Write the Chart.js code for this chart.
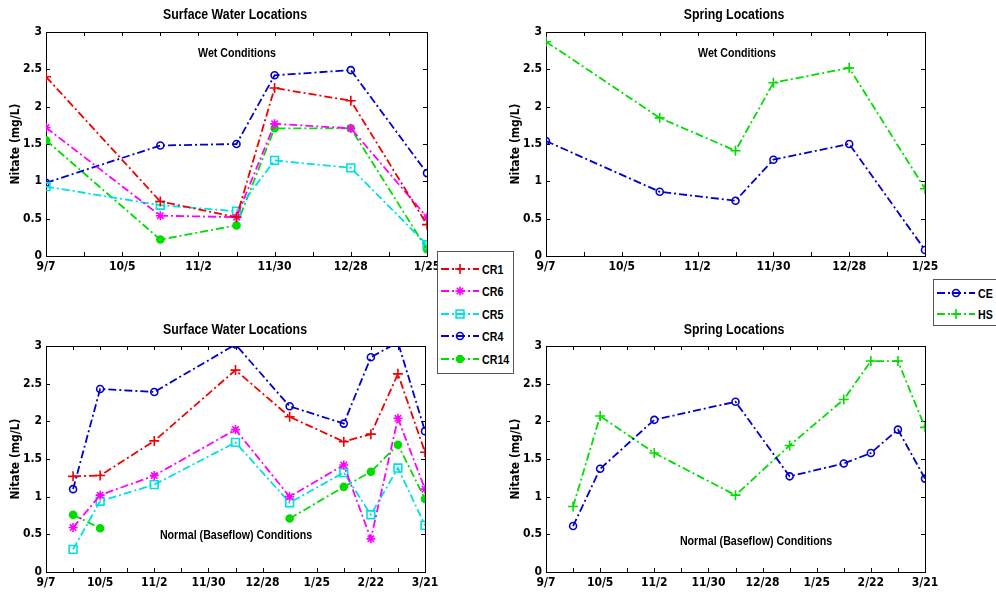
<!DOCTYPE html>
<html>
<head>
<meta charset="utf-8">
<script src="https://cdn.jsdelivr.net/npm/chart.js@4.4.1/dist/chart.umd.min.js"></script>
<style>
  body { margin: 0; background: #fff; width: 996px; height: 600px; position: relative; overflow: hidden;
         font-family: "Liberation Sans", Arial, sans-serif; }
  .panel { position: absolute; }
  .txt { position: absolute; font-weight: bold; font-size: 13px; white-space: nowrap; transform: translate(-50%, -50%) scaleX(0.82); color: #000; }
  .txt.title { font-size: 14px; transform: translate(-50%, -50%) scaleX(0.88); }
  .legend { position: absolute; border: 1px solid #555; background: #fff; }
  .legend .row { position: absolute; left: 0; height: 18px; display: flex; align-items: center; }
  .legend .row span { font-weight: bold; font-size: 13px; display: inline-block; transform: scaleX(0.82); transform-origin: left center; }
</style>
</head>
<body>
<div class="panel" style="left:0;top:0;width:440px;height:280px"><canvas id="c-tl"></canvas></div>
<div class="panel" style="left:500px;top:0;width:440px;height:280px"><canvas id="c-tr"></canvas></div>
<div class="panel" style="left:0;top:310px;width:440px;height:290px"><canvas id="c-bl"></canvas></div>
<div class="panel" style="left:500px;top:310px;width:440px;height:290px"><canvas id="c-br"></canvas></div>

<div class="txt title" style="left:235px;top:14px">Surface Water Locations</div>
<div class="txt title" style="left:734px;top:14px">Spring Locations</div>
<div class="txt title" style="left:235px;top:329px">Surface Water Locations</div>
<div class="txt title" style="left:734px;top:329px">Spring Locations</div>
<div class="txt" style="left:237px;top:52px">Wet Conditions</div>
<div class="txt" style="left:737px;top:52px">Wet Conditions</div>
<div class="txt" style="left:236px;top:534px">Normal (Baseflow) Conditions</div>
<div class="txt" style="left:756px;top:540px">Normal (Baseflow) Conditions</div>

<div class="legend" id="leg-sw" style="left:437px;top:251px;width:75px;height:121px"></div>
<div class="legend" id="leg-sp" style="left:933px;top:279px;width:70px;height:45px"></div>

<script>
// ---- data: days counted from 9/7 ----
const wetDays = [0, 42, 70, 84, 112, 140];
const baseDays = [14, 28, 56, 98, 126, 154, 168, 182, 196];
const wetTickLabels = ["9/7", "10/5", "11/2", "11/30", "12/28", "1/25"];
const baseTickLabels = ["9/7", "10/5", "11/2", "11/30", "12/28", "1/25", "2/22", "3/21"];

const wetCR1 = [2.40, 0.73, 0.52, 2.25, 2.08, 0.42];
const wetCR6 = [1.72, 0.54, 0.52, 1.77, 1.71, 0.52];
const wetCR5 = [0.93, 0.68, 0.60, 1.28, 1.18, 0.15];
const wetCR4 = [0.98, 1.48, 1.50, 2.42, 2.49, 1.11];
const wetCR14 = [1.55, 0.22, 0.41, 1.71, 1.71, 0.09];
const wetCE = [1.54, 0.86, 0.74, 1.29, 1.50, 0.08];
const wetHS = [2.87, 1.85, 1.41, 2.32, 2.52, 0.90];

const baseCR1 = [1.27, 1.28, 1.74, 2.68, 2.06, 1.73, 1.83, 2.63, 1.59];
const baseCR6 = [0.59, 1.02, 1.28, 1.89, 1.00, 1.42, 0.44, 2.04, 1.10];
const baseCR5 = [0.30, 0.94, 1.16, 1.72, 0.92, 1.32, 0.76, 1.38, 0.62];
const baseCR4 = [1.10, 2.43, 2.39, 3.02, 2.20, 1.97, 2.85, 3.05, 1.87];
const baseCR14 = [0.76, 0.58, null, null, 0.71, 1.13, 1.33, 1.69, 0.97];
const baseCE = [0.61, 1.37, 2.02, 2.26, 1.27, 1.44, 1.58, 1.89, 1.24];
const baseHS = [0.87, 2.07, 1.58, 1.02, 1.68, 2.29, 2.80, 2.80, 1.92];

// ---- styles ----
const FONT = '"DejaVu Sans Condensed", "Liberation Sans", sans-serif';
const DASH = [8, 3, 2, 3];
const styles = {
  CR1: { color: "#f00000", pointStyle: "cross", radius: 5, fill: false },
  CR6: { color: "#ff00ff", pointStyle: "star", radius: 4.5, fill: false },
  CR5: { color: "#00e0e0", pointStyle: "rect", radius: 5.5, fill: false },
  CR4: { color: "#0000d0", pointStyle: "circle", radius: 3.5, fill: false },
  CR14: { color: "#00dd00", pointStyle: "circle", radius: 3.5, fill: true },
  CE: { color: "#0000d0", pointStyle: "circle", radius: 3.5, fill: false },
  HS: { color: "#00dd00", pointStyle: "cross", radius: 5, fill: false },
};

function dataset(name, days, vals) {
  const s = styles[name];
  return {
    label: name,
    data: days.map((d, i) => ({ x: d, y: vals[i] })),
    borderColor: s.color,
    backgroundColor: s.fill ? s.color : "rgba(0,0,0,0)",
    borderWidth: 1.8,
    borderDash: DASH,
    pointStyle: s.pointStyle,
    pointRadius: s.radius,
    pointBorderWidth: 1.6,
    pointBorderColor: s.color,
    pointBackgroundColor: s.fill ? s.color : "rgba(0,0,0,0)",
    tension: 0,
    spanGaps: false,
  };
}

// box round the plot area with inward ticks on every side (MATLAB look)
const framePlugin = {
  id: "frame",
  beforeDatasetsDraw(chart) {
    const { ctx, chartArea: a, scales } = chart;
    ctx.save();
    ctx.strokeStyle = "#000";
    ctx.lineWidth = 1;
    ctx.strokeRect(a.left + 0.5, a.top + 0.5, a.width, a.height);
    ctx.beginPath();
    scales.x.ticks.forEach((t) => {
      const px = Math.round(scales.x.getPixelForValue(t.value)) + 0.5;
      ctx.moveTo(px, a.bottom); ctx.lineTo(px, a.bottom - 4);
      ctx.moveTo(px, a.top); ctx.lineTo(px, a.top + 4);
    });
    scales.y.ticks.forEach((t) => {
      const py = Math.round(scales.y.getPixelForValue(t.value)) + 0.5;
      ctx.moveTo(a.left, py); ctx.lineTo(a.left + 4, py);
      ctx.moveTo(a.right, py); ctx.lineTo(a.right - 4, py);
    });
    ctx.stroke();
    ctx.restore();
  },
};

function makeChart(id, datasets, maxDay, tickLabels, geo) {
  const font = { family: FONT, size: 12, weight: "bold" };
  return new Chart(document.getElementById(id), {
    type: "line",
    data: { datasets },
    plugins: [framePlugin],
    options: {
      responsive: true,
      maintainAspectRatio: false,
      animation: false,
      layout: { padding: { top: geo.top, right: geo.right, left: 0, bottom: 0 } },
      plugins: { legend: { display: false }, tooltip: { enabled: false } },
      scales: {
        x: {
          type: "linear", min: 0, max: maxDay,
          grid: { display: false, drawTicks: false },
          border: { display: false },
          afterBuildTicks: (s) => { s.ticks = []; for (let v = 0; v <= maxDay; v += 14) s.ticks.push({ value: v }); },
          afterFit: (s) => { s.height = geo.xh; s.paddingLeft = 0; s.paddingRight = 0; },
          ticks: {
            autoSkip: false, maxRotation: 0, padding: 4, color: "#000", font,
            callback: (v) => (v % 28 === 0 ? tickLabels[v / 28] : ""),
          },
        },
        y: {
          min: 0, max: 3,
          grid: { display: false, drawTicks: false },
          border: { display: false },
          afterFit: (s) => { s.width = 46; s.paddingTop = 0; s.paddingBottom = 0; },
          ticks: { stepSize: 0.5, padding: 4, color: "#000", font, callback: (v) => String(v) },
          title: {
            display: true, text: "Nitate (mg/L)", color: "#000", font,
            padding: { top: 9, bottom: 0 },
          },
        },
      },
    },
  });
}

makeChart("c-tl", [
  dataset("CR1", wetDays, wetCR1), dataset("CR6", wetDays, wetCR6), dataset("CR5", wetDays, wetCR5),
  dataset("CR4", wetDays, wetCR4), dataset("CR14", wetDays, wetCR14),
], 140, wetTickLabels, { top: 32, right: 13, xh: 24 });

makeChart("c-tr", [
  dataset("CE", wetDays, wetCE), dataset("HS", wetDays, wetHS),
], 140, wetTickLabels, { top: 32, right: 15, xh: 24 });

makeChart("c-bl", [
  dataset("CR1", baseDays, baseCR1), dataset("CR6", baseDays, baseCR6), dataset("CR5", baseDays, baseCR5),
  dataset("CR4", baseDays, baseCR4), dataset("CR14", baseDays, baseCR14),
], 196, baseTickLabels, { top: 36, right: 15, xh: 28 });

makeChart("c-br", [
  dataset("CE", baseDays, baseCE), dataset("HS", baseDays, baseHS),
], 196, baseTickLabels, { top: 36, right: 15, xh: 28 });

// ---- legends (line sample + marker as svg) ----
function markerSvg(name, cx, cy) {
  const s = styles[name], c = s.color;
  if (s.pointStyle === "cross")
    return `<path d="M${cx - 5} ${cy}H${cx + 5}M${cx} ${cy - 5}V${cy + 5}" stroke="${c}" stroke-width="1.6"/>`;
  if (s.pointStyle === "star")
    return `<path d="M${cx - 4.5} ${cy}H${cx + 4.5}M${cx} ${cy - 4.5}V${cy + 4.5}M${cx - 3.2} ${cy - 3.2}L${cx + 3.2} ${cy + 3.2}M${cx - 3.2} ${cy + 3.2}L${cx + 3.2} ${cy - 3.2}" stroke="${c}" stroke-width="1.6"/>`;
  if (s.pointStyle === "rect")
    return `<rect x="${cx - 3.9}" y="${cy - 3.9}" width="7.8" height="7.8" fill="none" stroke="${c}" stroke-width="1.6"/>`;
  return `<circle cx="${cx}" cy="${cy}" r="3.5" fill="${s.fill ? c : "none"}" stroke="${c}" stroke-width="1.6"/>`;
}
function buildLegend(id, names, rowTops) {
  const box = document.getElementById(id);
  names.forEach((n, i) => {
    const row = document.createElement("div");
    row.className = "row";
    row.style.top = rowTops[i] + "px";
    row.innerHTML =
      `<svg width="44" height="18"><line x1="3" y1="9" x2="41" y2="9" stroke="${styles[n].color}" stroke-width="1.8" stroke-dasharray="8,3,2,3"/>${markerSvg(n, 22, 9)}</svg><span>${n}</span>`;
    box.appendChild(row);
  });
}
buildLegend("leg-sw", ["CR1", "CR6", "CR5", "CR4", "CR14"], [8, 30, 53, 75, 98]);
buildLegend("leg-sp", ["CE", "HS"], [4, 25]);
</script>
</body>
</html>
